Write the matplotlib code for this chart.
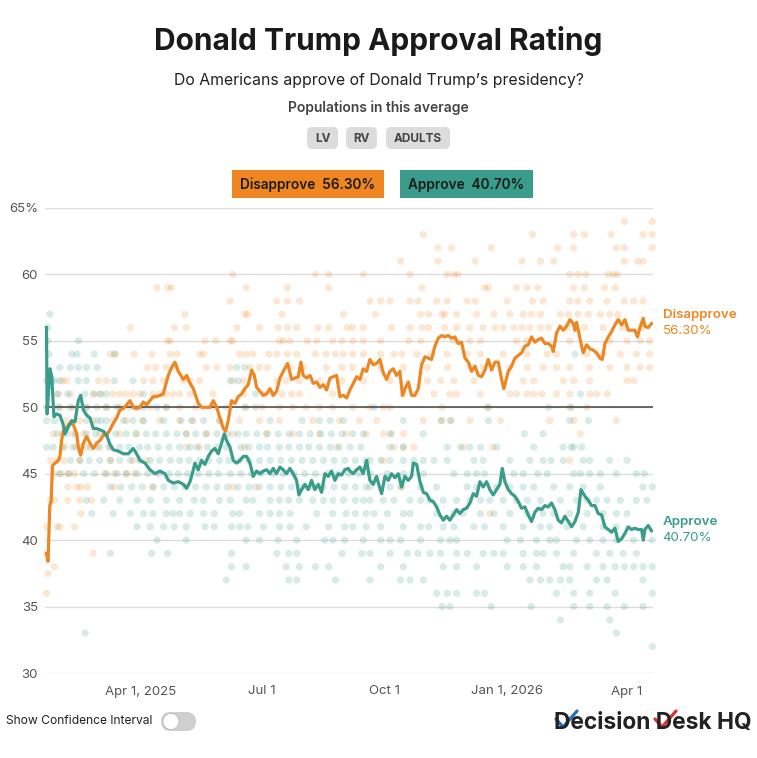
import datetime as dt
import matplotlib
matplotlib.use('Agg')
import matplotlib.pyplot as plt
from matplotlib.patches import FancyBboxPatch, Rectangle, Circle
from matplotlib.lines import Line2D

plt.rcParams['font.family'] = ['Inter', 'DejaVu Sans']

# ---- data ----
start = dt.date(2025, 1, 20)   # day 0 of the average
end_day = 455                  # Apr 20, 2026

# polling average, (days since start, percent)
disapprove_line = [
    (0, 39.0), (1.2, 38.4), (2.5, 42.6), (3.5, 42.9), (4.5, 45.6), (6.4, 45.8), (8.9, 46.0),
    (10.1, 46.3), (11.4, 47.5), (12.6, 48.2), (15.1, 48.5), (17.6, 48.8), (20.2, 48.7),
    (22.7, 48.0), (23.9, 47.0), (25.7, 46.4), (27.7, 47.3), (30.2, 47.8), (32.7, 47.3),
    (35.2, 46.9), (37.7, 47.3), (40.2, 47.5), (42.7, 47.9), (45.2, 47.9), (47.7, 48.3),
    (50.2, 48.8), (52.7, 49.2), (55.2, 49.8), (57.7, 49.9), (60.2, 50.2), (62.7, 50.5),
    (65.2, 50.0), (67.7, 49.9), (70.2, 50.0), (72.7, 50.4), (75.2, 50.2), (77.7, 50.5),
    (80.2, 50.8), (82.7, 50.8), (85.2, 50.9), (87.7, 51.0), (89.0, 51.5), (91.5, 52.4),
    (94.0, 53.0), (96.5, 53.4), (99.0, 52.7), (102.8, 52.1), (105.3, 52.4), (107.8, 51.8),
    (110.3, 51.4), (114.0, 50.3), (116.5, 50.0), (119.0, 50.0), (122.8, 50.0), (125.3, 50.5),
    (127.8, 50.0), (130.3, 49.2), (132.8, 48.4), (134.5, 48.2), (136.5, 49.0), (139.0, 50.5),
    (141.5, 50.3), (144.0, 50.8), (146.5, 51.0), (149.0, 51.4), (151.5, 51.7), (154.1, 52.8),
    (156.1, 52.4), (157.8, 51.5), (160.3, 51.2), (162.8, 50.9), (165.3, 51.0), (167.8, 51.4),
    (170.3, 50.9), (172.8, 51.2), (175.3, 52.2), (177.8, 52.7), (181.1, 53.3), (184.1, 52.1),
    (186.6, 52.2), (189.1, 52.3), (191.1, 53.4), (192.8, 52.4), (195.4, 52.2), (197.9, 52.4),
    (200.4, 51.8), (202.9, 51.9), (205.4, 51.5), (207.9, 51.7), (210.4, 51.3), (212.9, 52.2),
    (215.4, 52.3), (217.9, 52.4), (220.4, 50.8), (222.9, 50.9), (225.4, 50.7), (227.9, 51.3),
    (230.4, 51.8), (232.9, 52.3), (235.4, 52.1), (237.9, 52.9), (240.4, 52.7), (242.9, 53.6),
    (245.4, 53.2), (247.9, 53.3), (250.4, 53.6), (252.9, 52.6), (255.4, 52.1), (257.9, 52.7),
    (260.4, 52.9), (262.9, 52.4), (265.4, 52.7), (267.4, 50.9), (269.2, 51.4), (271.7, 51.9),
    (274.2, 50.9), (276.7, 50.9), (279.2, 51.4), (281.7, 53.2), (284.2, 53.8), (286.7, 53.7),
    (289.2, 53.6), (291.7, 54.6), (294.2, 55.2), (296.7, 55.4), (299.2, 55.3), (301.7, 55.4),
    (304.2, 55.2), (306.7, 55.3), (309.2, 54.8), (311.7, 54.9), (314.3, 53.7), (316.8, 53.4),
    (319.3, 52.7), (321.8, 53.1), (324.3, 52.4), (326.8, 52.3), (329.3, 52.8), (331.8, 53.6),
    (334.3, 52.8), (336.8, 53.4), (339.3, 53.4), (341.8, 52.1), (343.5, 51.4), (346.8, 52.7),
    (349.3, 53.1), (351.8, 53.7), (354.3, 53.9), (356.8, 54.1), (359.3, 54.6), (361.8, 54.7),
    (364.3, 55.3), (366.8, 54.9), (369.3, 55.1), (371.8, 55.2), (374.3, 54.8), (376.8, 54.8),
    (379.3, 54.6), (380.6, 54.2), (383.1, 55.6), (385.6, 56.1), (388.1, 55.8), (390.6, 56.1),
    (393.1, 56.6), (395.6, 56.3), (396.9, 55.8), (398.1, 56.4), (399.4, 55.8), (401.9, 54.6),
    (403.1, 54.1), (405.6, 54.7), (408.1, 54.4), (410.6, 54.3), (413.1, 54.1), (415.6, 53.7),
    (417.4, 53.6), (419.4, 54.8), (421.9, 55.3), (424.4, 55.7), (426.9, 56.2), (429.4, 56.6),
    (431.9, 56.2), (434.4, 56.6), (436.9, 55.8), (439.4, 55.8), (441.9, 55.8), (443.9, 55.3),
    (445.7, 56.0), (448.2, 56.7), (449.4, 56.1), (451.9, 56.0), (454.4, 56.3),
]

approve_line = [
    (0, 56.0), (0.5, 49.5), (2.6, 52.9), (4.0, 52.3), (5.6, 49.3), (7.6, 49.5), (10.1, 49.4),
    (12.6, 48.7), (13.9, 48.0), (16.4, 48.5), (18.9, 49.0), (21.4, 48.9), (23.9, 50.5),
    (25.7, 50.9), (27.7, 49.8), (30.2, 49.4), (32.7, 49.2), (35.2, 48.4), (37.7, 48.4),
    (40.2, 48.3), (42.7, 48.2), (45.2, 47.9), (47.7, 47.2), (50.2, 46.8), (54.0, 46.7),
    (57.7, 46.5), (61.5, 46.5), (65.2, 46.9), (67.7, 46.5), (70.2, 46.0), (74.0, 45.8),
    (77.7, 45.3), (81.5, 45.0), (85.2, 45.2), (89.0, 45.0), (91.5, 44.5), (95.2, 44.3),
    (99.0, 44.4), (102.8, 44.2), (105.3, 43.9), (107.8, 44.4), (110.3, 45.3), (111.5, 45.8),
    (114.0, 45.3), (116.5, 46.0), (119.0, 45.7), (121.5, 46.3), (124.0, 46.7), (126.5, 46.9),
    (129.0, 46.5), (131.5, 47.3), (133.5, 48.0), (135.3, 47.5), (137.8, 47.0), (140.3, 46.0),
    (142.8, 45.8), (145.3, 46.0), (147.8, 46.3), (150.3, 46.3), (152.8, 45.8), (155.3, 44.8),
    (157.8, 45.2), (160.3, 45.0), (162.8, 45.2), (165.3, 45.3), (167.8, 45.0), (170.3, 45.4),
    (172.8, 45.0), (175.3, 45.5), (177.8, 45.3), (180.3, 45.0), (182.8, 45.4), (185.3, 45.0),
    (187.8, 44.5), (189.6, 43.4), (191.6, 43.8), (194.1, 44.2), (196.6, 43.8), (199.1, 44.5),
    (201.6, 43.8), (204.1, 44.2), (206.6, 43.6), (209.1, 45.0), (211.6, 44.8), (214.1, 45.2),
    (216.6, 44.5), (219.1, 45.0), (221.6, 44.9), (224.1, 45.3), (226.6, 45.4), (227.9, 45.2),
    (230.4, 45.0), (232.9, 45.3), (235.4, 45.5), (237.9, 45.0), (240.4, 46.0), (242.9, 44.5),
    (245.4, 44.2), (247.9, 44.8), (250.4, 43.9), (251.7, 43.5), (254.2, 44.8), (256.7, 44.5),
    (259.2, 45.0), (261.7, 44.7), (264.2, 45.0), (266.7, 44.0), (269.2, 44.8), (271.7, 44.5),
    (274.2, 44.8), (275.5, 45.8), (278.0, 45.7), (280.5, 44.4), (283.0, 43.6), (285.5, 43.5),
    (288.0, 43.0), (290.5, 42.9), (293.0, 42.5), (295.5, 41.9), (298.0, 41.5), (300.5, 41.8),
    (303.0, 41.5), (305.5, 41.9), (308.0, 42.3), (310.5, 42.0), (313.0, 42.3), (315.5, 42.4),
    (318.0, 42.8), (320.5, 43.5), (323.0, 43.3), (325.5, 44.4), (328.0, 44.0), (330.5, 44.4),
    (333.0, 43.8), (335.5, 43.4), (338.0, 43.8), (340.5, 44.2), (342.3, 45.4), (344.3, 44.4),
    (346.8, 43.8), (349.3, 43.5), (351.8, 43.3), (354.3, 42.9), (356.8, 42.4), (359.3, 42.5),
    (361.8, 41.9), (364.3, 41.4), (366.8, 42.1), (369.3, 42.4), (371.8, 42.3), (374.3, 42.6),
    (376.8, 42.5), (379.3, 42.8), (381.8, 42.3), (384.3, 41.5), (386.8, 41.3), (389.3, 41.8),
    (391.9, 41.4), (394.4, 41.0), (396.9, 41.4), (399.4, 42.1), (401.4, 43.8), (404.4, 43.3),
    (406.9, 43.0), (409.4, 42.6), (411.9, 42.6), (414.4, 42.0), (416.9, 41.9), (419.4, 41.0),
    (421.9, 40.8), (424.4, 40.6), (426.9, 40.9), (429.4, 39.9), (431.9, 40.1), (434.4, 40.5),
    (436.9, 41.0), (439.4, 40.8), (441.9, 40.9), (444.4, 40.8), (446.9, 40.8), (448.2, 40.0),
    (449.4, 40.8), (451.9, 41.1), (454.4, 40.7),
]

# individual polls: (percent, [days since start])
disapprove_polls = [
    (64, [434, 455]),
    (63, [283, 365, 396, 404, 424, 448, 455]),
    (62, [294, 304, 334, 384, 396, 428, 434, 455]),
    (61, [266, 294, 322, 357, 371, 381, 434, 444, 448]),
    (60, [140, 202, 212, 238, 273, 301, 306, 309, 393, 399, 405, 422, 426, 429]),
    (59, [83, 91, 94, 150, 181, 212, 282, 329, 332, 353, 361, 369, 396, 404, 419, 427]),
    (58, [138, 173, 181, 190, 243, 251, 258, 273, 279, 293, 301, 316, 322, 346, 365, 373,
          393, 399, 408, 421, 434, 441, 448]),
    (57, [104, 149, 151, 177, 223, 247, 281, 287, 297, 299, 308, 323, 336, 348, 358, 364,
          371, 386, 392, 399, 407, 416, 423, 429]),
    (56, [63, 96, 105, 143, 160, 174, 181, 188, 204, 212, 226, 230, 238, 259, 273, 282, 287,
          299, 308, 318, 328, 337, 343, 351, 357, 363, 371, 377, 391, 404, 418, 433, 448]),
    (55, [91, 93, 119, 127, 138, 140, 175, 178, 183, 196, 203, 215, 222, 230, 238, 251, 272,
          281, 306, 318, 326, 353, 361, 393, 423, 436, 446, 453]),
    (54, [48, 52, 66, 79, 93, 98, 115, 118, 145, 150, 155, 167, 173, 181, 188, 202, 210, 217,
          223, 230, 238, 251, 261, 267, 278, 289, 301, 316, 326, 343, 361, 376, 383, 406, 418,
          431, 443, 453]),
    (53, [76, 82, 90, 96, 120, 128, 138, 153, 160, 166, 183, 193, 210, 222, 230, 251, 268,
          286, 301, 318, 328, 348, 361, 373, 383, 393, 408, 423, 436, 446, 453]),
    (52, [12, 15, 39, 45, 73, 80, 88, 103, 108, 115, 140, 148, 173, 180, 190, 205, 222, 238,
          258, 286, 296, 306, 321, 358, 366, 388, 396, 408, 436, 441]),
    (51, [8, 18, 35, 40, 50, 55, 60, 65, 70, 80, 85, 90, 95, 100, 108, 125, 148, 163, 170,
          177, 184, 190, 215, 268, 291, 303, 308, 326, 348, 353, 361, 366, 372, 383, 393, 408,
          413, 421]),
    (50, [10, 20, 30, 45, 55, 62, 70, 78, 90, 100, 112, 125, 135, 150, 162, 175, 185, 195,
          205, 215, 230, 243, 253, 258, 297, 331, 393, 406]),
    (49, [15, 25, 35, 50, 60, 72, 85, 100, 110, 130, 145, 160, 175, 200, 220, 235, 248, 283,
          296, 303, 318, 341, 378, 396, 428]),
    (48, [5, 12, 20, 28, 40, 55, 68, 105, 120, 140, 165, 185, 205, 225, 240, 253, 258, 268, 401]),
    (47, [14, 22, 30, 38, 48, 105, 115, 149, 218, 261, 268, 276, 313, 335]),
    (46, [3, 8, 13, 25, 48, 65, 75, 253, 393]),
    (45, [6, 11, 16, 21, 44, 51, 60, 66]),
    (44, [16, 23, 26, 31, 51, 80, 140, 157, 267]),
    (43, [3, 6, 16, 25, 34]),
    (42, [26, 333]),
    (41, [0, 8, 10, 21]),
    (39, [0, 35]),
    (38, [6]),
    (37.5, [1]),
    (36, [0]),
]

approve_polls = [
    (57, [2.6]),
    (56, [1]),
    (55, [1, 24]),
    (54, [2, 19, 23, 36, 51, 397]),
    (53, [10, 18, 24, 30, 38, 143, 149]),
    (52, [0, 4, 6, 10, 24, 30, 51, 65, 138, 144]),
    (51, [9, 16, 29, 36, 41, 45, 73, 157, 401]),
    (50, [0, 9, 18, 30, 38, 45, 53, 66, 73, 83, 90, 149, 157, 246, 332, 377, 394]),
    (49, [0, 6, 30, 38, 41, 45, 58, 65, 73, 88, 101, 109, 118, 130, 168, 192, 205, 213, 223,
          268, 297, 304, 332, 393, 407]),
    (48, [8, 15, 22, 30, 37, 44, 52, 60, 67, 75, 82, 90, 98, 105, 112, 120, 128, 136, 144,
          150, 158, 166, 174, 182, 190, 198, 206, 214, 222, 230, 238, 259, 283, 359, 373]),
    (47, [0, 5, 12, 20, 26, 33, 40, 47, 55, 62, 70, 76, 84, 92, 100, 108, 113, 121, 128, 135,
          146, 152, 160, 166, 175, 182, 190, 197, 205, 213, 220, 228, 236, 258, 268, 301, 311,
          318, 326, 338, 366, 388, 394, 396, 402]),
    (46, [18, 25, 32, 40, 48, 55, 63, 70, 78, 85, 93, 100, 107, 115, 122, 130, 137, 145, 152,
          160, 168, 176, 184, 192, 200, 208, 216, 224, 232, 240, 243, 251, 258, 268, 276, 283,
          291, 301, 321, 328, 348, 363, 373, 379, 388, 403, 408, 423, 436]),
    (45, [10, 17, 28, 36, 45, 53, 60, 68, 76, 84, 92, 99, 106, 114, 122, 129, 138, 146, 154,
          161, 170, 178, 186, 194, 202, 211, 219, 227, 235, 243, 256, 268, 283, 306, 316, 323,
          329, 351, 358, 369, 376, 396, 401, 408, 416, 428, 443, 449]),
    (44, [48, 56, 64, 72, 80, 88, 96, 104, 112, 120, 128, 136, 144, 152, 160, 168, 176, 184,
          192, 200, 208, 216, 224, 232, 240, 243, 258, 266, 281, 293, 316, 323, 338, 348, 358,
          366, 381, 393, 403, 416, 448, 455]),
    (43, [30, 43, 55, 68, 78, 90, 100, 111, 118, 130, 138, 150, 155, 168, 175, 182, 190, 200,
          208, 215, 223, 232, 238, 243, 253, 261, 273, 281, 288, 298, 308, 318, 326, 333, 343,
          353, 361, 371, 386, 398, 406, 413, 421, 431, 443, 451]),
    (42, [34, 50, 63, 73, 80, 90, 95, 100, 108, 118, 126, 140, 145, 160, 168, 175, 183, 203,
          215, 225, 232, 240, 246, 256, 268, 273, 293, 306, 313, 326, 336, 348, 361, 373, 381,
          393, 406, 418, 428, 436]),
    (41, [68, 78, 88, 96, 105, 119, 126, 139, 145, 151, 163, 175, 183, 195, 212, 224, 230,
          240, 251, 268, 281, 287, 298, 306, 321, 329, 343, 358, 371, 378, 391, 403, 418, 428]),
    (40, [83, 105, 150, 160, 174, 188, 209, 215, 224, 238, 251, 258, 266, 281, 296, 303, 308,
          346, 356, 368, 378, 383, 398, 408, 418, 428, 441, 455]),
    (39, [48, 79, 91, 139, 173, 182, 188, 222, 237, 243, 258, 271, 279, 288, 296, 308, 316,
          328, 336, 343, 358, 368, 373, 383, 396, 413, 423, 433, 443]),
    (38, [139, 150, 180, 190, 202, 212, 251, 268, 298, 308, 323, 346, 358, 368, 388, 393,
          406, 418, 427, 434, 441, 448, 455]),
    (37, [135, 182, 188, 217, 243, 266, 273, 283, 363, 371, 378, 386, 393, 413, 421, 448]),
    (36, [293, 301, 308, 323, 329, 383, 396, 408, 427, 455]),
    (35, [297, 303, 334, 364, 396, 408, 421, 434, 448]),
    (34, [386, 423]),
    (33, [29, 428]),
    (32, [455]),
]

latest = {'Disapprove': 56.30, 'Approve': 40.70}
populations = ['LV', 'RV', 'ADULTS']
tick_dates = [dt.date(2025, 4, 1), dt.date(2025, 7, 1), dt.date(2025, 10, 1),
              dt.date(2026, 1, 1), dt.date(2026, 4, 1)]
tick_labels = ['Apr 1, 2025', 'Jul 1', 'Oct 1', 'Jan 1, 2026', 'Apr 1']
y_ticks = [30, 35, 40, 45, 50, 55, 60, 65]

ORANGE = '#EE8721'
TEAL = '#3A9C8A'

W, H = 757, 758
fig = plt.figure(figsize=(W / 100, H / 100), dpi=100)


def fx(px):
    return px / W


def fy(py):
    return 1 - py / H


ax = fig.add_axes([fx(45), fy(673), fx(653) - fx(45), fy(208) - fy(673)])

# poll dots
for polls, col in [(disapprove_polls, ORANGE), (approve_polls, TEAL)]:
    xs, ys = [], []
    for pct, days in polls:
        xs += days
        ys += [pct] * len(days)
    ax.scatter(xs, ys, s=27, color=col, alpha=0.2, edgecolors='none', zorder=2, clip_on=False)

ax.axhline(50, color='#444444', lw=1.1, zorder=3)

for line, col in [(disapprove_line, ORANGE), (approve_line, TEAL)]:
    d = [p[0] for p in line]
    v = [p[1] for p in line]
    ax.plot(d, v, color=col, lw=2.3, zorder=4, solid_joinstyle='round')

ax.set_xlim(-1.1, end_day + 0.5)
ax.set_ylim(30, 65)
ax.set_xticks([(t - start).days for t in tick_dates])
ax.set_xticklabels(tick_labels)
ax.set_yticks(y_ticks)
ax.set_yticklabels([str(t) for t in y_ticks[:-1]] + ['65%'])
ax.tick_params(length=0, labelsize=9.5, labelcolor='#555555')
ax.tick_params(axis='x', pad=9)
ax.tick_params(axis='y', pad=5)
ax.yaxis.grid(True, color='#DDDDDD', lw=1)
ax.set_axisbelow(True)
for s in ax.spines.values():
    s.set_visible(False)

# end labels
for name, col in [('Disapprove', ORANGE), ('Approve', TEAL)]:
    val = latest[name]
    ax.annotate(name, xy=(end_day + 0.5, val), xytext=(7, 6.5), textcoords='offset points',
                color=col, fontsize=9.6, fontweight='semibold', va='center', ha='left',
                annotation_clip=False)
    ax.annotate(f'{val:.2f}%', xy=(end_day + 0.5, val), xytext=(7, -5), textcoords='offset points',
                color=col, fontsize=9.6, va='center', ha='left', annotation_clip=False)

# header
fig.text(0.5, fy(41), 'Donald Trump Approval Rating', ha='center', va='center',
         fontsize=21.5, fontweight='bold', color='#1a1a1a')
fig.text(0.5, fy(80), 'Do Americans approve of Donald Trump\u2019s presidency?', ha='center',
         va='center', fontsize=11.4, color='#222222')
fig.text(0.5, fy(108), 'Populations in this average', ha='center', va='center',
         fontsize=10, fontweight='semibold', color='#444444')

pill_boxes = [(307, 338), (346, 377), (386, 450)]
for label, (x0, x1) in zip(populations, pill_boxes):
    fig.patches.append(FancyBboxPatch((fx(x0), fy(149)), fx(x1 - x0), fy(127) - fy(149),
                                      boxstyle='round,pad=0,rounding_size=0.007',
                                      transform=fig.transFigure, fc='#DCDCDC', ec='none'))
    fig.text(fx((x0 + x1) / 2), fy(138.5), label, ha='center', va='center', fontsize=8.5,
             fontweight='bold', color='#444444')

legend_boxes = [('Disapprove', ORANGE, 232, 384), ('Approve', TEAL, 400, 533)]
for name, col, x0, x1 in legend_boxes:
    fig.patches.append(Rectangle((fx(x0), fy(198)), fx(x1 - x0), fy(170) - fy(198),
                                 transform=fig.transFigure, fc=col, ec='none'))
    fig.text(fx((x0 + x1) / 2), fy(184.5), f'{name}  {latest[name]:.2f}%', ha='center',
             va='center', fontsize=9.8, fontweight='semibold', color='#1a1a1a')

# footer: toggle
fig.text(fx(6), fy(721), 'Show Confidence Interval', ha='left', va='center', fontsize=8.7,
         color='#222222')
fig.patches.append(FancyBboxPatch((fx(161), fy(731)), fx(35), fy(712) - fy(731),
                                  boxstyle='round,pad=0,rounding_size=0.0125',
                                  transform=fig.transFigure, fc='#CFCFCF', ec='none'))
fig.patches.append(Circle((fx(171), fy(721.5)), fx(8), transform=fig.transFigure,
                          fc='white', ec='#BBBBBB', lw=0.6))

# footer: logo
fig.text(fx(554), fy(723), 'Decision Desk HQ', ha='left', va='center', fontsize=16.4,
         fontweight='bold', color='#222222')
for (x0, y0, x1, y1, x2, y2), col in [((556, 719, 563, 727, 577, 711), '#2F6DB5'),
                                      ((655, 719, 662, 727, 676, 711), '#D9343A')]:
    fig.lines.append(Line2D([fx(x0), fx(x1), fx(x2)], [fy(y0), fy(y1), fy(y2)],
                            transform=fig.transFigure, color=col, lw=2.3,
                            solid_capstyle='round'))

fig.savefig('out.png', dpi=100)
